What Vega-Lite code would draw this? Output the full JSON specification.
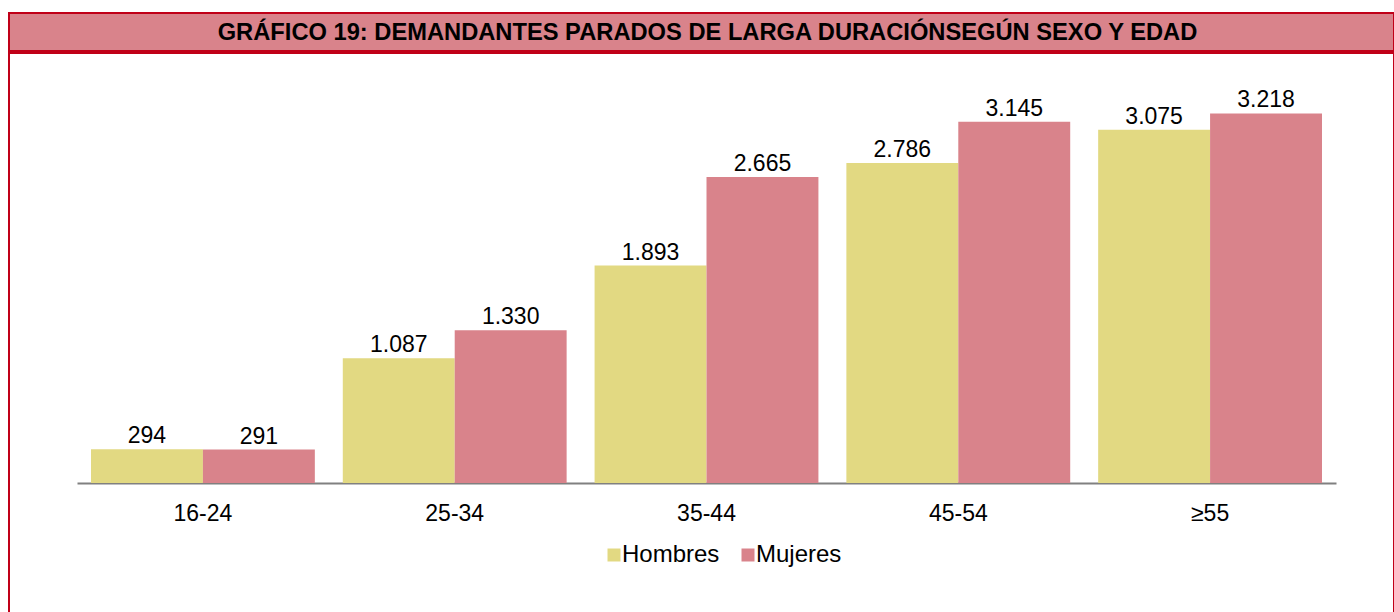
{
  "$schema": "https://vega.github.io/schema/vega-lite/v6.json",
  "padding": {"left": 8, "top": 12, "right": 0, "bottom": 0},
  "autosize": {"type": "pad"},
  "background": "white",
  "spacing": 0,
  "config": {
    "font": "Liberation Sans",
    "locale": {"number": {"decimal": ",", "thousands": ".", "grouping": [3], "currency": ["", " €"]}},
    "concat": {"spacing": 0}
  },
  "vconcat": [
    {
      "width": 1385,
      "height": 38,
      "view": {"fill": "#D9838B", "stroke": "#C00018", "strokeWidth": 2},
      "data": {"values": [{"t": "GRÁFICO 19: DEMANDANTES PARADOS DE LARGA DURACIÓNSEGÚN SEXO Y EDAD"}]},
      "mark": {"type": "text", "fontSize": 23.7, "fontWeight": "bold", "color": "black", "dx": 6, "dy": 1},
      "encoding": {"text": {"field": "t"}}
    },
    {
      "width": 1385,
      "height": 561,
      "view": {"stroke": "#C00018", "strokeWidth": 2},
      "data": {"values": [
        {"edad": "16-24", "sexo": "Hombres", "valor": 294},
        {"edad": "16-24", "sexo": "Mujeres", "valor": 291},
        {"edad": "25-34", "sexo": "Hombres", "valor": 1087},
        {"edad": "25-34", "sexo": "Mujeres", "valor": 1330},
        {"edad": "35-44", "sexo": "Hombres", "valor": 1893},
        {"edad": "35-44", "sexo": "Mujeres", "valor": 2665},
        {"edad": "45-54", "sexo": "Hombres", "valor": 2786},
        {"edad": "45-54", "sexo": "Mujeres", "valor": 3145},
        {"edad": "≥55", "sexo": "Hombres", "valor": 3075},
        {"edad": "≥55", "sexo": "Mujeres", "valor": 3218}
      ]},
      "encoding": {
        "x": {
          "field": "edad", "type": "nominal",
          "sort": ["16-24", "25-34", "35-44", "45-54", "≥55"],
          "scale": {"range": [68, 1327], "paddingInner": 0.111, "paddingOuter": 0.0556},
          "axis": {
            "title": null, "labelAngle": 0, "ticks": false, "grid": false,
            "offset": -131, "domainColor": "#808080", "domainWidth": 2,
            "labelFontSize": 23, "labelPadding": 19, "labelColor": "black"
          }
        },
        "xOffset": {"field": "sexo", "type": "nominal", "sort": ["Hombres", "Mujeres"], "scale": {"paddingInner": 0, "paddingOuter": 0}},
        "y": {
          "field": "valor", "type": "quantitative",
          "scale": {"domain": [0, 3500], "range": [430, 28]},
          "axis": null
        }
      },
      "layer": [
        {
          "mark": {"type": "bar"},
          "encoding": {
            "color": {
              "field": "sexo", "type": "nominal",
              "scale": {"domain": ["Hombres", "Mujeres"], "range": ["#E2D982", "#D9838B"]},
              "legend": {
                "orient": "none", "legendX": 593, "legendY": 530, "direction": "horizontal",
                "title": null, "symbolType": "square", "symbolSize": 169,
                "labelFontSize": 24, "labelOffset": -4, "columnPadding": 16,
                "symbolStrokeWidth": 0, "labelColor": "black"
              }
            }
          }
        },
        {
          "mark": {"type": "text", "baseline": "alphabetic", "dy": -6, "fontSize": 23, "color": "black"},
          "encoding": {"text": {"field": "valor", "type": "quantitative", "format": ",.0f"}}
        }
      ]
    }
  ]
}
